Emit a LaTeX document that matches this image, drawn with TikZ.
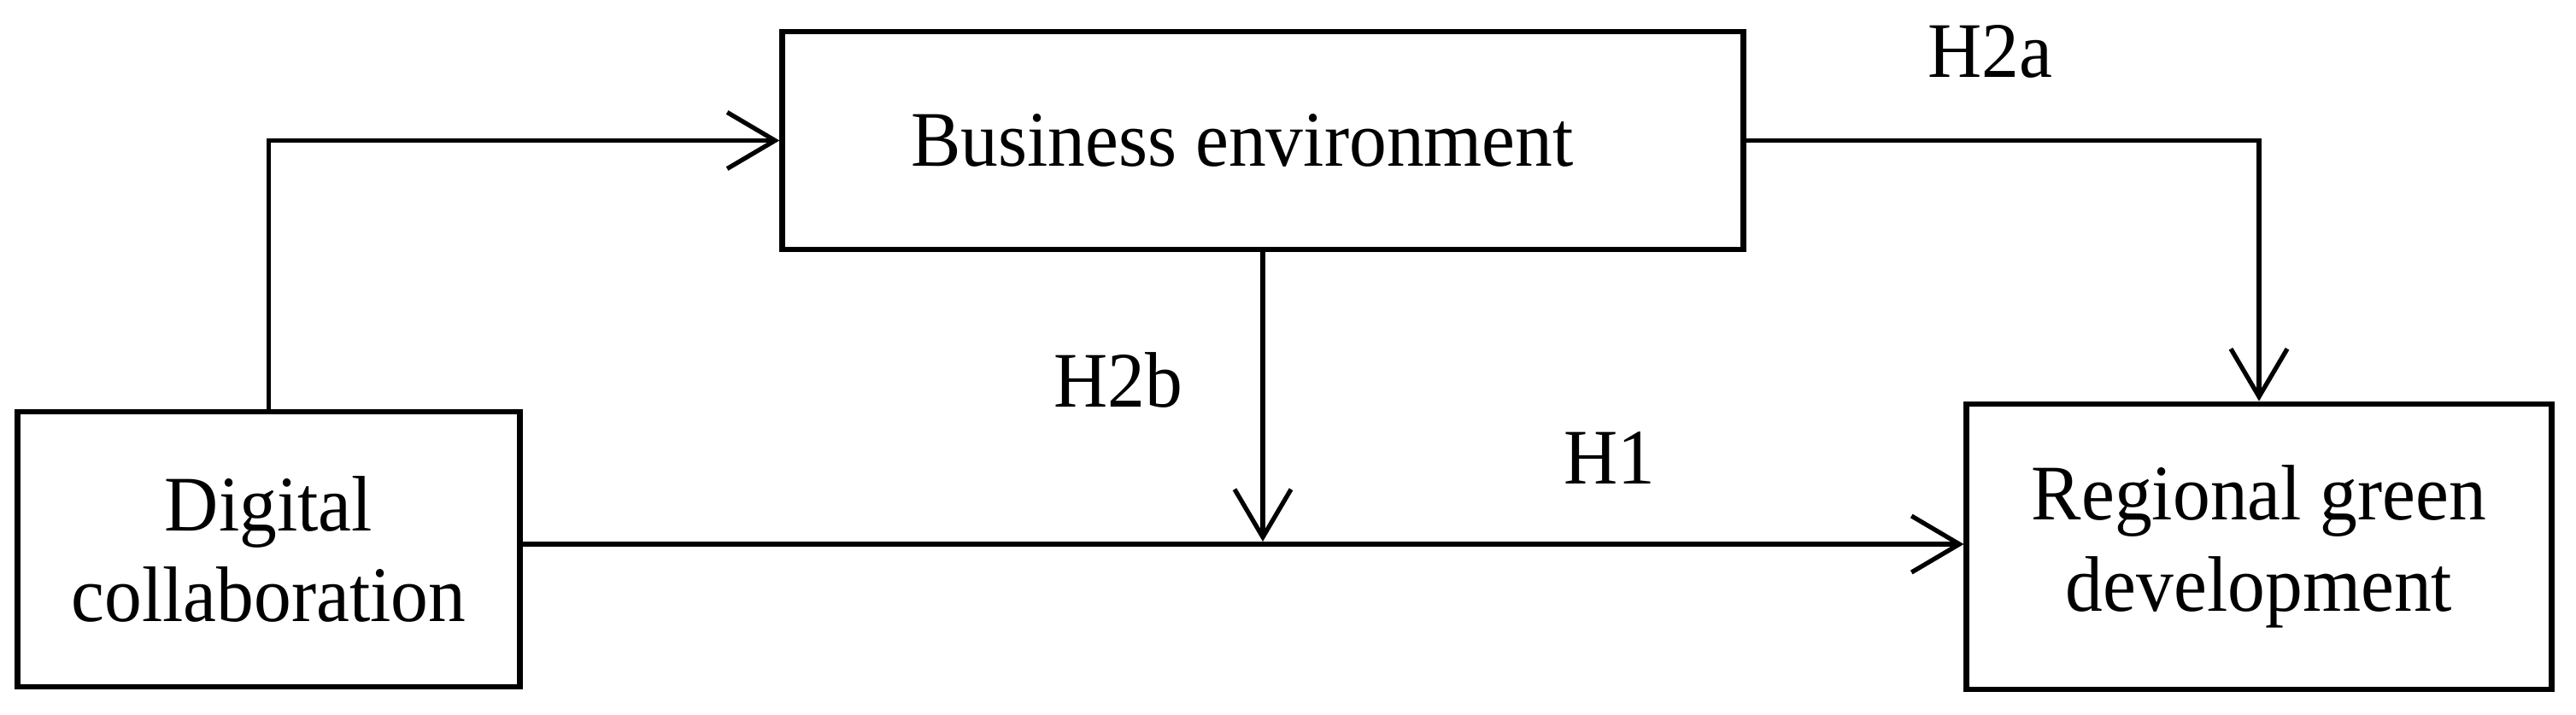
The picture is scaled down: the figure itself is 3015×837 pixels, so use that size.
\documentclass[tikz,border=0pt]{standalone}
\usepackage{fontspec}
\setmainfont{Liberation Serif}[FakeStretch=0.95]
\usetikzlibrary{arrows.meta}
\begin{document}
\begin{tikzpicture}[x=0.01cm,y=-0.01cm,
  box/.style={draw=black, line width=1.9pt, rectangle, inner sep=0pt, align=center,
    font=\fontsize{26.2pt}{30.4pt}\selectfont},
  conn/.style={draw=black, line width=1.5pt,
    -{Straight Barb[length=0.56cm, width=0.66cm, line width=1.5pt]}},
  hyp/.style={anchor=base, inner sep=0pt, font=\fontsize{26.2pt}{30.4pt}\selectfont}]
\fill[white] (0,0) rectangle (3015,837);
\useasboundingbox (0,0) rectangle (3015,837);
\node[box, minimum width=5.87cm, minimum height=3.22cm] (dc) at (314.5,643) {Digital\\collaboration};
\node[box, minimum width=11.24cm, minimum height=2.55cm] (be) at (1478,164.5) {Business environment\hspace*{0.48cm}};
\node[box, minimum width=6.84cm, minimum height=3.34cm] (rgd) at (2644,640) {Regional green\\development};
\coordinate (mid) at (be.south |- 0,634);
\draw[conn] (dc.north) |- (be.west);
\draw[conn] (dc.east |- 0,637) -- (rgd.west |- 0,637);
\draw[conn] (be.south) -- (mid);
\draw[conn] (be.east) -| (rgd.north);
\node[hyp] (h2a) at (2329,91) {H2a};
\node[hyp] (h2b) at (1309,477) {H2b};
\node[hyp] (h1) at (1884,567) {H1};
\end{tikzpicture}
\end{document}
